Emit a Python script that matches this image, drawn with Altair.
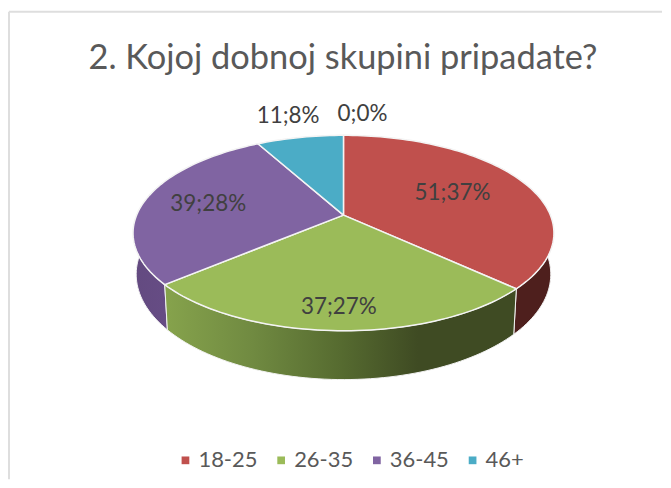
import math
import altair as alt
import pandas as pd

TITLE = "2. Kojoj dobnoj skupini pripadate?"
AGES = ["18-25", "26-35", "36-45", "46+"]
COUNTS = [51, 37, 39, 11]
TOP_COLORS = ["#C0504D", "#9BBB59", "#8064A2", "#4BACC6"]
LABELS = ["51;37%", "37;27%", "39;28%", "11;8%", "0;0%"]
# placement of each data label: radius factor and angular nudge (degrees), as Excel placed them
LABEL_RADIUS = [0.60, 0.83, 0.68, 1.336, 1.336]
LABEL_NUDGE = [0, 0, 0, 0, 4.9]

# perspective projection of the pie disc into picture coordinates
CX, APEX_Y, R, PERSP, BEND, DEPTH = 343.5, 215.0, 207.5, -0.1837, 55.2, 40.0


def project(deg, r=1.0, drop=False):
    a = math.radians(deg)
    u, v = r * math.sin(a), -r * math.cos(a)
    d = 1 + PERSP * v
    x = CX + R * u / d
    y = (BEND * v + APEX_Y) / d
    if drop:
        x = CX + (x - CX) * 0.985
        y += DEPTH / d
    return x, y


total = sum(COUNTS)
edges = [0.0]
for c in COUNTS:
    edges.append(edges[-1] + c / total * 360)

top_rows, side_rows = [], []
for k, age in enumerate(AGES):
    a0, a1 = edges[k], edges[k + 1]
    n = max(6, int((a1 - a0) / 1.5))
    angs = [a0 + (a1 - a0) * i / n for i in range(n + 1)]
    pts = [(CX, APEX_Y)] + [project(t) for t in angs] + [(CX, APEX_Y)]
    top_rows += [{"age": age, "i": i, "x": p[0], "y": p[1]} for i, p in enumerate(pts)]
    pts = [project(t) for t in angs] + [project(t, drop=True) for t in reversed(angs)]
    pts.append(pts[0])
    side_rows += [{"age": age, "i": i, "x": p[0], "y": p[1]} for i, p in enumerate(pts)]
top_df = pd.DataFrame(top_rows)
side_df = pd.DataFrame(side_rows)

label_rows = []
mids = [(edges[i] + edges[i + 1]) / 2 for i in range(4)] + [360.0]
for txt, m, r, nud in zip(LABELS, mids, LABEL_RADIUS, LABEL_NUDGE):
    x, y = project(m + nud, r)
    label_rows.append({"t": txt, "x": x, "y": y})
label_df = pd.DataFrame(label_rows)

W, H = 655, 472
X = alt.X("x:Q", axis=None, scale=alt.Scale(domain=[8, 8 + W], nice=False, zero=False))
Y = alt.Y("y:Q", axis=None, scale=alt.Scale(domain=[8 + H, 8], nice=False, zero=False))
ORDER = alt.Order("i:Q")


def grad(stops):
    return alt.LinearGradient(
        gradient="linear", x1=0, x2=1, y1=0, y2=0,
        stops=[alt.GradientStop(offset=o, color=c) for o, c in stops],
    )


SIDE_FILLS = {
    "18-25": "#4E1F1D",
    "26-35": grad([(0, "#86A34C"), (0.25, "#708A41"), (0.5, "#566B30"), (0.72, "#3F4B23"), (1, "#3F4B23")]),
    "36-45": grad([(0, "#634A80"), (0.6, "#6A4F8A"), (1, "#6A4F8A")]),
    "46+": "#2F6B7B",
}

frame = pd.DataFrame({"x": [8, 8], "y": [11, 11], "x2": [8 + W, 8], "y2": [11, 8 + H]})
frame_layer = alt.Chart(frame).mark_rule(color="#DEDEDE", strokeWidth=2).encode(x=X, y=Y, x2="x2:Q", y2="y2:Q")

sides = [
    alt.Chart(side_df[side_df.age == a]).mark_line(
        filled=True, fill=SIDE_FILLS[a], stroke="#F2F2F2", strokeWidth=1, interpolate="linear"
    ).encode(x=X, y=Y, order=ORDER)
    for a in ["46+", "36-45", "18-25", "26-35"]
]

top = alt.Chart(top_df).mark_line(
    filled=True, stroke="#F4F4F4", strokeWidth=1.5, interpolate="linear"
).encode(
    x=X, y=Y, order=ORDER,
    fill=alt.Fill(
        "age:N",
        scale=alt.Scale(domain=AGES, range=TOP_COLORS),
        legend=alt.Legend(
            title=None, orient="none", legendX=174 - 8, legendY=460 - 8 - 10,
            direction="horizontal", columns=4, symbolType="square", symbolSize=60,
            symbolStrokeWidth=0, labelFont="Lato", labelFontSize=22, labelColor="#595959",
            labelOffset=2, columnPadding=12, padding=0, labelLimit=200,
        ),
    ),
)

labels = alt.Chart(label_df).mark_text(
    font="Lato", fontSize=22.5, color="#404040", align="center", baseline="middle"
).encode(x=X, y=Y, text="t:N")

title = alt.Chart(pd.DataFrame({"x": [343], "y": [58], "t": [TITLE]})).mark_text(
    font="Lato", fontSize=34.5, color="#595959", align="center", baseline="middle"
).encode(x=X, y=Y, text="t:N")

chart = alt.layer(frame_layer, *sides, top, labels, title).properties(
    width=W, height=H, padding=0, background="white"
).configure_view(stroke=None)

chart.save("out.html", embed_options={"renderer": "svg", "actions": False})
